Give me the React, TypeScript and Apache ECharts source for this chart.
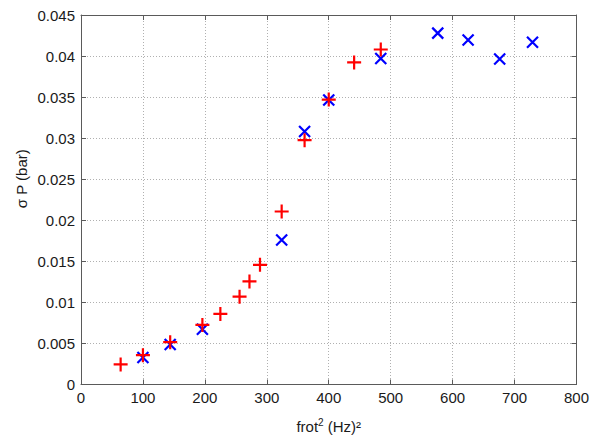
import React, { useEffect, useRef } from "react";
import * as echarts from "echarts";

const redX = [64, 100, 144, 196, 225, 256, 272, 289, 324, 361, 400, 441, 484];
const redY = [0.00245, 0.00357, 0.00515, 0.00725, 0.0086, 0.0107, 0.01255, 0.01457, 0.02107, 0.02975, 0.0347, 0.03922, 0.0408];
const blueX = [100, 144, 196, 324, 361, 400, 484, 576, 625, 676, 729];
const blueY = [0.00328, 0.00487, 0.00673, 0.0176, 0.03082, 0.03466, 0.0397, 0.04279, 0.04196, 0.03965, 0.04167];

const yName = "σ P (bar)";

export default function App() {
  const ref = useRef<HTMLDivElement>(null);
  useEffect(() => {
    document.body.style.margin = "0";
    const chart = echarts.init(ref.current!, null, { renderer: "svg" });
    const font = "Liberation Sans, Arial, sans-serif";
    const axisColor = "#5a5a5a";
    const txt = "#1a1a1a";
    const baseX = {
      type: "value",
      min: 0,
      max: 800,
      interval: 100,
      axisLine: { show: true, onZero: false, lineStyle: { color: axisColor, width: 1 } },
      axisTick: { show: true, inside: true, length: 5, lineStyle: { color: axisColor } },
    };
    const baseY = {
      type: "value",
      min: 0,
      max: 0.045,
      interval: 0.005,
      axisLine: { show: true, onZero: false, lineStyle: { color: axisColor, width: 1 } },
      axisTick: { show: true, inside: true, length: 5, lineStyle: { color: axisColor } },
    };
    chart.setOption({
      animation: false,
      backgroundColor: "#ffffff",
      grid: { left: 81, right: 13, top: 15, bottom: 46, containLabel: false },
      xAxis: [
        {
          ...baseX,
          position: "bottom",
          name: "{a|frot}{s|2}{a| (Hz)²}",
          nameLocation: "middle",
          nameGap: 33,
          nameMoveOverlap: false,
          nameTextStyle: {
            rich: {
              a: { fontSize: 15, fontFamily: font, color: txt },
              s: { fontSize: 10, fontFamily: font, color: txt, verticalAlign: "top", padding: [0, 0, 8, 0] },
            },
          },
          axisLabel: { color: txt, fontSize: 15, fontFamily: font, margin: 5 },
          splitLine: { show: true, lineStyle: { type: [1, 2], color: "#b0b0b0", width: 1 } },
        },
        {
          ...baseX,
          position: "top",
          axisLabel: { show: false },
          splitLine: { show: false },
        },
      ],
      yAxis: [
        {
          ...baseY,
          position: "left",
          name: yName,
          nameLocation: "middle",
          nameGap: 52,
          nameMoveOverlap: false,
          nameTextStyle: { fontSize: 15, fontFamily: font, color: txt, padding: [0, 0, 0, 42] },
          axisLabel: {
            color: txt,
            fontSize: 15,
            fontFamily: font,
            margin: 6,
            formatter: (v: number) => String(+v.toFixed(3)),
          },
          splitLine: { show: true, lineStyle: { type: [1, 2], color: "#b0b0b0", width: 1 } },
        },
        {
          ...baseY,
          position: "right",
          axisLabel: { show: false },
          splitLine: { show: false },
        },
      ],
      series: [
        {
          type: "scatter",
          xAxisIndex: 0,
          yAxisIndex: 0,
          data: blueX.map((x, i) => [x, blueY[i]]),
          symbol: "path://M0,0 L10,10 M10,0 L0,10",
          symbolSize: 11,
          itemStyle: { color: "none", borderColor: "#0000ff", borderWidth: 2.2, opacity: 1 },
          z: 2,
        },
        {
          type: "scatter",
          xAxisIndex: 0,
          yAxisIndex: 0,
          data: redX.map((x, i) => [x, redY[i]]),
          symbol: "path://M5,0 L5,10 M0,5 L10,5",
          symbolSize: 14,
          itemStyle: { color: "none", borderColor: "#ff0000", borderWidth: 2.2, opacity: 1 },
          z: 3,
        },
      ],
    });
    return () => chart.dispose();
  }, []);
  return <div ref={ref} style={{ width: 592, height: 439 }} />;
}
